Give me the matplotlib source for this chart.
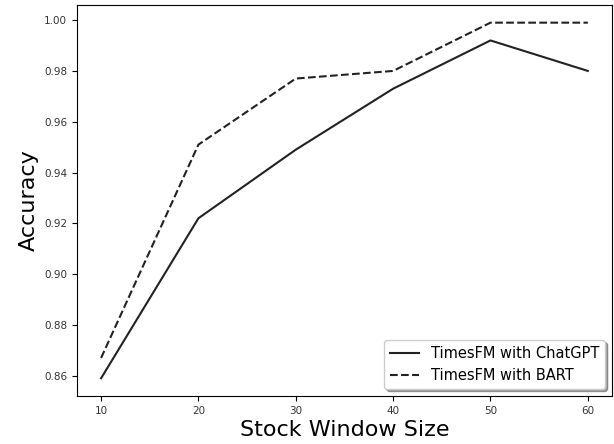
import matplotlib
matplotlib.use('Agg')
import matplotlib.pyplot as plt

# Data
window_sizes = [10, 20, 30, 40, 50, 60]
acc_chatgpt = [0.859, 0.922, 0.949, 0.973, 0.992, 0.980]
acc_bart = [0.867, 0.951, 0.977, 0.980, 0.999, 0.999]

fig, ax = plt.subplots(figsize=(6.14, 4.44), dpi=100)
fig.subplots_adjust(left=0.125, right=0.997, top=0.989, bottom=0.108)

ax.plot(window_sizes, acc_chatgpt, color='#222222', linestyle='-', linewidth=1.5,
        label='TimesFM with ChatGPT')
ax.plot(window_sizes, acc_bart, color='#222222', linestyle='--', linewidth=1.5,
        label='TimesFM with BART')

ax.set_xlabel('Stock Window Size', fontsize=16, labelpad=3)
ax.set_ylabel('Accuracy', fontsize=16)
ax.set_yticks([0.86, 0.88, 0.90, 0.92, 0.94, 0.96, 0.98, 1.00])
ax.set_yticklabels([f'{v:.2f}' for v in ax.get_yticks()])
ax.tick_params(labelsize=7.5, labelcolor='#333333')

ax.legend(loc='lower right', fontsize=10.5, shadow=True)

fig.savefig('out.png', dpi=100)
